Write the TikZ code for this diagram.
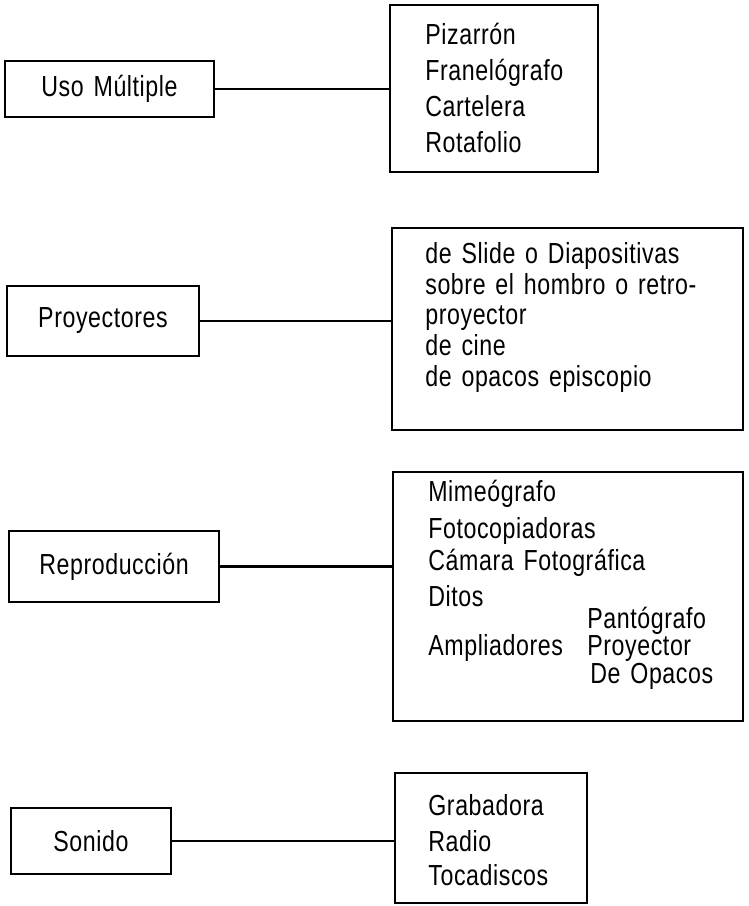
\documentclass[tikz,border=0pt]{standalone}
\usepackage{fontspec}
\setmainfont{Liberation Sans}[FakeStretch=0.8,LetterSpace=2,WordSpace={1.4}]
\usepackage{tikz}

\tikzset{
  caja/.style={draw, line width=1.4pt, inner sep=0pt, outer sep=0pt},
  item/.style={anchor=base west, inner sep=0pt, font=\fontsize{16.5}{18}\selectfont},
  titulo/.style={font=\fontsize{16.5}{18}\selectfont}
}

\begin{document}
\begin{tikzpicture}[x=0.02cm, y=-0.02cm]
				\useasboundingbox (0,0) rectangle (749,906);
				
				% Left boxes
				\node[caja, titulo, minimum width=4.18cm, minimum height=1.12cm] (uso) at (109.5,89) {Uso Múltiple};
				\node[caja, titulo, minimum width=3.84cm, minimum height=1.4cm] (proy) at (103,321) {Proyectores};
				\node[caja, titulo, minimum width=4.2cm, minimum height=1.42cm] (repro) at (114,566.5) {Reproducción};
				\node[caja, titulo, minimum width=3.2cm, minimum height=1.32cm] (son) at (91,841) {Sonido};
				
				% Right boxes
				\node[caja, minimum width=4.16cm, minimum height=3.34cm] (usolist) at (494,88.5) {};
				\node[caja, minimum width=7.02cm, minimum height=4.04cm] (proylist) at (567.5,329) {};
				\node[caja, minimum width=7cm, minimum height=4.98cm] (reprolist) at (568,596.5) {};
				\node[caja, minimum width=3.84cm, minimum height=2.6cm] (sonlist) at (491,838) {};
				
				% Uso multiple
				\node[item] (uso1) at (425,44) {Pizarrón};
				\node[item] (uso2) at (425,80) {Franelógrafo};
				\node[item] (uso3) at (425,116) {Cartelera};
				\node[item] (uso4) at (425,152) {Rotafolio};
				
				% Proyectores
				\node[item] (proy1) at (425,263) {de Slide o Diapositivas};
				\node[item] (proy2) at (425,294) {sobre el hombro o retro-};
				\node[item] (proy3) at (425,324) {proyector};
				\node[item] (proy4) at (425,355) {de cine};
				\node[item] (proy5) at (425,386) {de opacos episcopio};
				
				% Reproduccion
				\node[item] (repro1) at (428,501) {Mimeógrafo};
				\node[item] (repro2) at (428,538) {Fotocopiadoras};
				\node[item] (repro3) at (428,570) {Cámara Fotográfica};
				\node[item] (repro4) at (428,606) {Ditos};
				\node[item] (repro5) at (428,655) {Ampliadores};
				\node[item] (repro6) at (587,628) {Pantógrafo};
				\node[item] (repro7) at (587,655) {Proyector};
				\node[item] (repro8) at (590,683) {De Opacos};
				
				% Sonido
				\node[item] (son1) at (428,815) {Grabadora};
				\node[item] (son2) at (428,851) {Radio};
				\node[item] (son3) at (428,885) {Tocadiscos};
				
				% Connectors
				\draw[line width=1.4pt] (uso.east) -- (uso.east -| usolist.west);
				\draw[line width=1.4pt] (proy.east) -- (proy.east -| proylist.west);
				\draw[line width=1.4pt] (repro.east) -- (repro.east -| reprolist.west);
				\draw[line width=1.4pt] (son.east) -- (son.east -| sonlist.west);
			\end{tikzpicture}
\end{document}
